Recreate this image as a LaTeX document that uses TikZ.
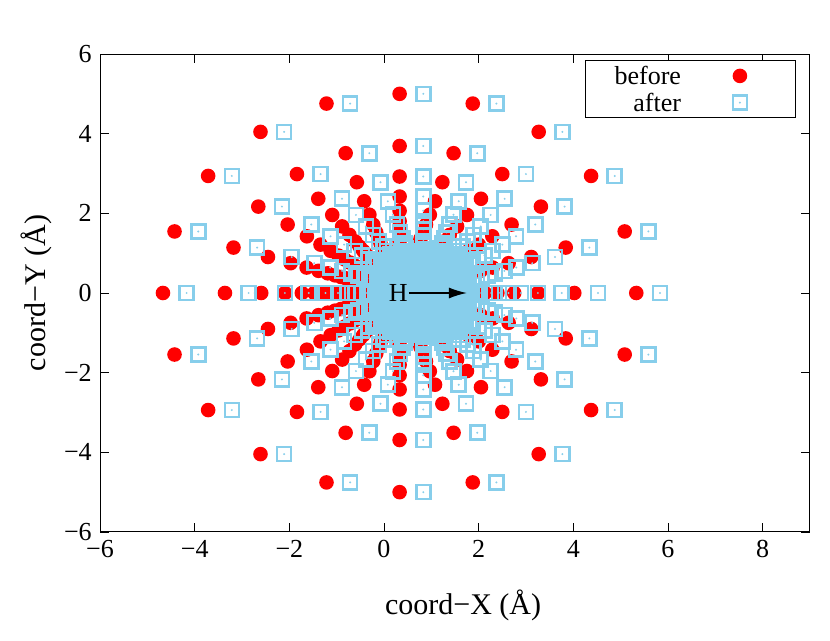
\documentclass[tikz,border=0pt]{standalone}
\usepackage{fontspec}
\setmainfont{Liberation Serif}
\usetikzlibrary{arrows.meta}
\begin{document}
\begin{tikzpicture}[x=47.33pt,y=39.83pt,
  redpt/.style={fill=red,draw=none},
  bluept/.style={draw=skyb,line width=2.6pt},
  tick/.style={line width=0.7pt},
  lbl/.style={font=\fontsize{26}{26}\selectfont}]
\definecolor{skyb}{RGB}{135,206,235}
\useasboundingbox (-8.113,-8.737) rectangle (9.423,7.356);
% red points
\foreach \n in {1,...,80}{
  \pgfmathsetmacro{\r}{1/(0.2+0.071*(\n-1))}
  \foreach \k in {0,...,19}{
    \fill[redpt] ({0.33+\r*sin(18*\k)},{\r*cos(18*\k)}) circle[radius=7.3pt];
  }
}
\foreach \n in {1,...,80}{
  \pgfmathsetmacro{\r}{1/(0.2+0.071*(\n-1))}
  \foreach \k in {0,...,19}{
    \draw[bluept] ({0.83+\r*sin(18*\k)},{\r*cos(18*\k)}) +(-7pt,-7pt) rectangle +(7pt,7pt);
    \fill[skyb] ({0.83+\r*sin(18*\k)},{\r*cos(18*\k)}) circle[radius=1.1pt];
  }
}
% arrow
\node[lbl,inner sep=1pt] (H) at (0.3,0) {H};
\coordinate (Hend) at (1.75,0);
\draw[line width=1.3pt,-{Latex[length=18pt,width=11pt]}] (H.east) -- (Hend);
% frame
\draw[line width=1pt] (-6,-6) rectangle (9,6);
\foreach \x in {-6,-4,...,8}{
  \draw[tick] (\x,-6) -- ++(0,9pt);
  \draw[tick] (\x,6) -- ++(0,-9pt);
  \node[lbl,anchor=north] at (\x,-6.12) {\ifnum\x<0 −\the\numexpr-\x\relax\else\x\fi};
}
\foreach \y in {-6,-4,...,6}{
  \draw[tick] (-6,\y) -- ++(9pt,0);
  \draw[tick] (9,\y) -- ++(-9pt,0);
  \node[lbl,anchor=east] at (-6.1,\y) {\ifnum\y<0 −\the\numexpr-\y\relax\else\y\fi};
}
\node[font=\fontsize{30}{30}\selectfont] (xl) at (1.67,-7.85) {coord−X (Å)};
\node[font=\fontsize{30}{30}\selectfont,rotate=90] (yl) at (-7.35,0) {coord−Y (Å)};
% legend
\draw[line width=0.6pt,fill=white] (4.26,5.85) rectangle (8.68,4.42);
\node[lbl,anchor=east] (lb) at (6.35,5.45) {before};
\node[lbl,anchor=east] (la) at (6.35,4.78) {after};
\fill[redpt] (7.52,5.45) circle[radius=7.3pt];
\draw[bluept] (7.52,4.78) +(-7pt,-7pt) rectangle +(7pt,7pt);
\fill[skyb] (7.52,4.78) circle[radius=1.1pt];
\end{tikzpicture}
\end{document}
